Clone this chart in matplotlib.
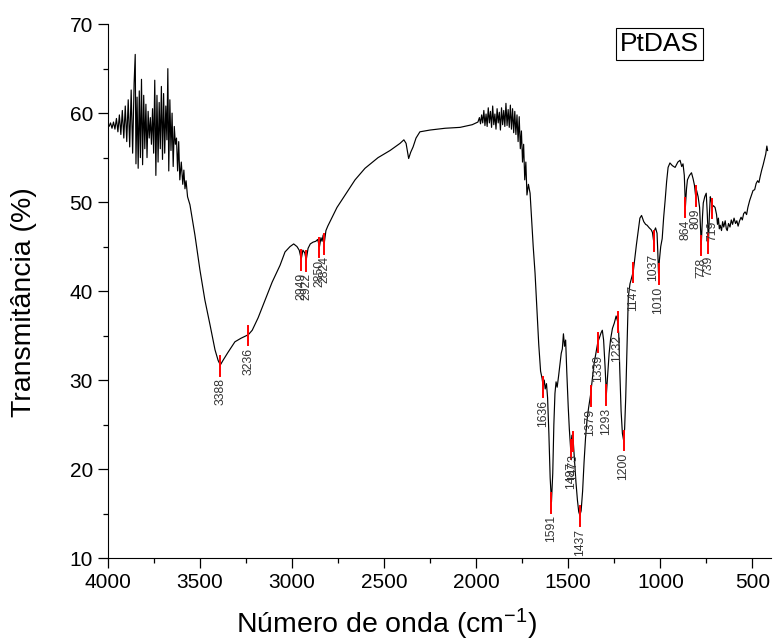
import matplotlib
matplotlib.use("Agg")
import matplotlib.pyplot as plt
from matplotlib.ticker import MultipleLocator

plt.rcParams['font.family'] = ['Liberation Sans', 'DejaVu Sans']
plt.rcParams['mathtext.default'] = 'regular'

# spectrum (cm-1, %T)
wavenumber = [
    4000, 3992, 3984, 3976, 3968, 3960, 3952, 3944, 3936, 3928, 3920, 3912, 3904, 3896,
    3888, 3880, 3872, 3864, 3856, 3850, 3846, 3840, 3834, 3828, 3822, 3816, 3810, 3804,
    3798, 3792, 3786, 3780, 3774, 3768, 3762, 3756, 3750, 3744, 3738, 3732, 3726, 3720,
    3714, 3708, 3702, 3696, 3690, 3684, 3678, 3673, 3668, 3662, 3656, 3650, 3644, 3638,
    3632, 3626, 3620, 3614, 3608, 3600, 3592, 3586, 3580, 3574, 3566,
    3553, 3526, 3499, 3472, 3444, 3417, 3400, 3388, 3374, 3347, 3309, 3276, 3236, 3215,
    3183, 3145, 3107, 3064, 3037, 3010, 2990, 2972, 2960, 2949, 2940, 2930, 2922, 2912,
    2900, 2885, 2870, 2860, 2850, 2842, 2836, 2830, 2824, 2815, 2805, 2793, 2755, 2711,
    2657, 2603, 2532, 2467, 2413, 2392, 2380, 2366, 2355, 2342, 2326, 2305, 2250, 2168,
    2087, 2021,
    1990, 1982, 1976, 1970, 1964, 1958, 1952, 1946, 1940, 1934, 1928, 1922, 1916, 1910,
    1904, 1898, 1892, 1886, 1880, 1874, 1868, 1862, 1856, 1850, 1844, 1838, 1832, 1826,
    1820, 1814, 1808, 1802, 1796, 1790, 1784, 1778, 1772, 1766, 1760, 1754, 1748, 1742,
    1736, 1730, 1724, 1716, 1707,
    1700, 1690, 1680, 1670, 1660, 1650, 1642, 1636, 1630, 1625, 1618, 1612, 1605, 1598,
    1591, 1584, 1578, 1572, 1566, 1560, 1552, 1545, 1538, 1532, 1526, 1520, 1514, 1508,
    1500, 1494, 1487, 1480, 1473, 1466, 1458, 1450, 1443, 1437, 1430, 1422, 1414, 1406,
    1398, 1390, 1379, 1370, 1360, 1350, 1339, 1330, 1322, 1315, 1308, 1300, 1293, 1286,
    1278, 1270, 1260, 1250, 1240, 1232, 1226, 1220, 1213, 1206, 1200, 1194, 1188, 1182,
    1177, 1174, 1165, 1155, 1147, 1138, 1130, 1120, 1111, 1102, 1090, 1080, 1072, 1060,
    1050, 1043, 1037, 1032, 1026, 1018, 1014, 1010, 1005, 998, 990, 982, 974, 966,
    958, 948, 935, 920, 905, 893, 884, 877, 870, 864, 858, 853, 842, 831,
    822, 815, 809, 803, 795, 787, 778, 771, 767, 759, 751, 746, 739, 734,
    729, 724, 719, 712, 703, 695, 690, 685, 680, 675, 668, 662, 656, 648,
    642, 637, 630, 622, 615, 608, 600, 592, 585, 578, 570, 562, 555, 548,
    540, 532, 525, 515, 505, 497, 488, 480, 472, 465, 458, 450, 442, 435,
    428, 422, 418,
]
transmittance = [
    58.8, 58.5, 58.9, 58.3, 59.0, 58.2, 59.4, 57.9, 59.8, 57.6, 60.3, 57.2, 60.8, 56.8,
    61.5, 56.2, 62.6, 55.5, 63.4, 66.6, 54.3, 61.8, 53.8, 62.5, 55.0, 63.8, 54.2, 62.0,
    56.0, 61.0, 55.0, 60.2, 57.2, 59.5, 56.5, 60.5, 55.5, 63.7, 53.0, 62.0, 54.5, 61.2,
    56.0, 63.0, 54.8, 62.2, 55.5, 60.8, 57.0, 65.0, 53.5, 61.5, 55.8, 60.0, 54.0, 58.5,
    56.5, 57.2, 53.5, 56.8, 52.5, 54.5, 52.0, 53.6, 51.5, 52.4, 50.6,
    49.7, 46.3, 42.4, 39.0, 36.2, 33.4, 32.2, 31.7, 32.2, 33.1, 34.3, 34.7, 35.1, 35.6,
    37.0, 39.0, 41.0, 42.9, 44.4, 45.0, 45.3, 45.0, 44.6, 43.6, 44.6, 44.3, 43.5, 44.8,
    45.3, 45.5, 45.6, 45.8, 45.0, 46.0, 45.6, 46.3, 45.4, 46.8, 47.3, 47.8, 49.4, 50.8,
    52.5, 53.8, 55.0, 55.8, 56.6, 57.0, 56.6, 54.9, 55.6, 56.2, 57.2, 57.9, 58.1, 58.3,
    58.4, 58.7,
    59.0, 59.5, 58.8, 59.8, 58.9, 60.3, 58.6, 59.9, 58.5, 60.6, 58.9, 60.2, 58.4, 60.8,
    58.7, 59.9, 58.2, 60.5, 58.9, 60.1, 58.1, 60.6, 58.7, 60.3, 58.5, 61.1, 58.6, 60.4,
    58.4, 60.9, 58.2, 60.5, 57.8, 60.2, 57.6, 59.8, 56.8, 59.6, 56.0, 58.0, 54.5, 56.5,
    52.5, 54.5, 50.8, 52.0, 51.0,
    48.5, 45.0, 42.0, 38.0, 34.0, 31.0, 30.2, 29.3, 30.0, 29.0, 29.6, 28.0, 24.0, 19.0,
    16.3, 19.5, 25.0, 28.5, 29.8, 29.2, 30.5, 31.8, 33.0, 33.5, 35.2, 33.8, 34.5, 31.0,
    27.0, 24.5, 22.3, 23.8, 23.2, 21.0, 18.5, 16.5, 15.2, 14.8, 15.3, 17.5, 20.8, 23.5,
    25.5, 26.8, 28.3, 30.0, 31.8, 33.0, 34.3, 34.8, 35.3, 35.6, 34.5, 31.5, 28.4, 30.5,
    33.0, 34.6, 35.8, 36.4, 37.2, 36.6, 35.3, 31.0, 26.5, 24.0, 23.3, 24.5, 28.0, 33.0,
    37.0, 39.3, 40.8, 41.6, 42.2, 43.8, 45.2, 46.8, 48.2, 48.5, 47.8, 47.5, 47.4, 47.1,
    46.9, 46.6, 45.7, 46.8, 47.1, 46.5, 44.5, 42.0, 43.5, 45.0, 45.9, 48.3, 50.2, 52.3,
    53.9, 54.4, 54.1, 53.9, 54.5, 54.7, 54.0, 54.3, 53.0, 49.5, 51.5, 52.5, 53.0, 53.3,
    52.6, 51.9, 50.8, 51.3, 50.6, 49.4, 45.2, 48.5, 49.9, 50.6, 51.0, 49.0, 45.5, 48.5,
    50.6, 50.2, 49.4, 49.6, 49.4, 48.6, 47.5, 48.2, 47.0, 47.4, 46.8, 47.8, 47.2, 47.9,
    47.0, 46.8, 47.6, 47.2, 48.0, 47.5, 48.2, 47.6, 47.9, 47.3, 47.9, 48.3, 48.0, 48.7,
    48.9, 48.6, 49.4, 50.2, 50.8, 51.3, 51.4, 52.1, 52.4, 52.2, 52.9, 53.6, 54.2, 54.8,
    55.4, 56.3, 55.8,
]

# labelled peaks
peak_wn = [3388, 3236, 2949, 2922, 2850, 2824, 1636, 1591, 1487, 1473, 1437, 1379,
           1339, 1293, 1232, 1200, 1147, 1037, 1010, 864, 809, 778, 739, 719]
peak_t = [31.7, 35.1, 43.6, 43.5, 45.0, 45.4, 29.3, 16.3, 22.3, 23.2, 14.8, 28.3,
          34.3, 28.4, 36.6, 23.3, 42.2, 45.7, 42.0, 49.5, 50.8, 45.2, 45.5, 49.4]

fig = plt.figure(figsize=(7.74, 6.44), dpi=100)
ax = fig.add_axes([0.139, 0.1335, 0.857, 0.829])

ax.plot(wavenumber, transmittance, color='black', lw=0.85)

for w, t in zip(peak_wn, peak_t):
    ax.plot([w, w], [t + 1.0, t - 1.2], color='red', lw=1.4)
    ax.text(w, t - 1.5, str(w), rotation=90, ha='center', va='top',
            fontsize=8.7, color='#333333')

ax.set_xlim(4000, 400)
ax.set_ylim(10, 70)
ax.xaxis.set_major_locator(MultipleLocator(500))
ax.xaxis.set_minor_locator(MultipleLocator(250))
ax.yaxis.set_major_locator(MultipleLocator(10))
ax.yaxis.set_minor_locator(MultipleLocator(5))
ax.tick_params(which='major', direction='out', length=7, width=0.9, labelsize=15)
ax.tick_params(which='minor', direction='out', length=3.5, width=0.9)
ax.spines['top'].set_visible(False)
ax.spines['right'].set_visible(False)

ax.set_xlabel('Número de onda (cm$^{-1}$)', fontsize=20.5)
ax.set_ylabel('Transmitância (%)', fontsize=20.5)
ax.xaxis.set_label_coords(0.421, -0.092)
ax.yaxis.set_label_coords(-0.107, 0.479)

ax.text(0.8317, 0.9625, 'PtDAS', transform=ax.transAxes, fontsize=19,
        ha='center', va='center',
        bbox=dict(boxstyle='square,pad=0.15', facecolor='white', edgecolor='black', lw=0.8))

fig.savefig('out.png', dpi=100)
